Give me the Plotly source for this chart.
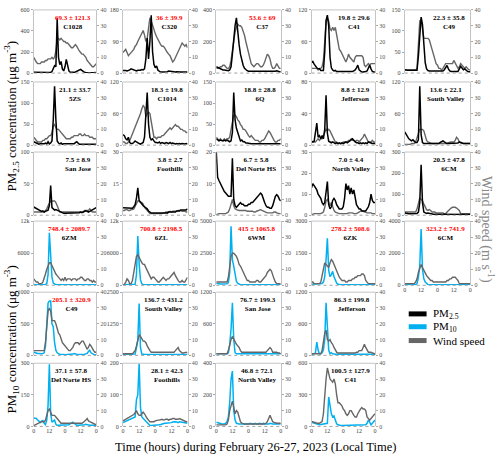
import plotly.graph_objects as go

W, H = 500, 461
hours = list(range(49))
x_tick_vals = [0, 12, 24, 36, 48]
x_tick_text = ['0', '12', '0', '12', '0']
ws_ticks = [0, 10, 20, 30, 40]

# ---------------- PM2.5 panels (hourly, 0..48 h) ----------------
pm25_C1028 = [8,8,6,5,5,6,5,5,6,5, 8,6,5,6,15,40,70,60,520,150, 80,110,40,20,60,130,70,20,8,6, 6,8,10,15,25,30,35,25,12,6, 5,4,4,4,5,4,4,5,4]
ws25_C1028 = [10,8,7,6,6,6,7,7,7,8, 8,9,9,9,10,9,10,14,22,22, 21,22,21,20,20,19,19,18,17,16, 16,17,18,17,15,14,13,12,12,11, 10,8,7,6,5,4,4,5,6]
pm25_C320 = [7,8,7,6,7,9,12,10,8,7, 6,8,7,8,10,9,12,40,100,40, 90,165,60,25,15,20,8,4,3,3, 3,3,5,4,6,5,4,3,3,3, 4,3,3,3,3,4,3,3,3]
ws25_C320 = [13,14,15,13,11,12,13,14,15,17, 18,20,22,24,26,27,24,20,22,30, 35,33,30,27,25,23,21,19,18,17, 17,16,14,13,12,11,9,7,8,10, 12,14,16,18,19,18,17,18,16]
pm25_C37 = [40,35,30,28,25,20,20,18,15,15, 20,40,120,220,300,350,250,180,120,80, 50,30,20,15,12,12,10,10,10,12, 10,10,12,10,10,10,12,10,10,8, 10,8,8,10,12,15,10,8,8]
ws25_C37 = [3,3,3,4,4,5,5,4,3,3, 4,8,15,22,26,29,31,30,30,29, 27,24,20,16,12,9,6,5,4,5, 6,6,5,4,4,5,7,10,12,11, 9,5,3,3,4,6,4,3,3]
pm25_C41 = [20,22,17,13,10,8,8,5,5,5, 40,100,110,90,30,10,6,4,5,3, 3,3,3,2,3,2,3,3,2,3, 3,3,4,6,10,15,6,3,2,2, 2,3,4,10,15,8,3,2,2]
ws25_C41 = [3,3,3,3,3,2,3,3,4,8, 20,32,35,33,28,27,29,27,29,24, 18,15,14,12,10,9,7,9,12,10, 9,8,7,10,11,11,11,11,11,10, 5,4,5,6,5,6,6,6,6]
pm25_C49 = [8,7,7,7,7,7,7,7,7,7, 40,100,133,115,60,25,10,6,5,5, 5,5,5,5,5,5,5,5,5,8, 15,18,10,5,4,4,4,4,4,4, 10,16,12,8,10,6,4,3,3]
ws25_C49 = [2,2,2,2,2,2,2,2,2,3, 20,33,34,28,22,22,22,22,21,18, 14,11,8,6,5,3,3,2,3,5, 6,6,6,6,6,6,8,6,4,3, 4,6,5,4,3,4,3,2,2]
pm25_5ZS = [8,6,4,2,2,3,3,2,3,5, 3,8,3,5,10,60,140,60,10,5, 3,5,2,3,3,3,3,3,3,3, 3,3,6,8,5,2,2,2,2,2, 2,2,2,2,2,2,2,2,2]
ws25_5ZS = [5,4,3,2,2,2,2,3,3,4, 4,5,6,6,8,12,13,11,10,10, 9,8,7,6,5,4,4,4,4,5, 5,6,6,6,6,7,7,6,6,7, 6,6,6,5,5,5,4,4,4]
pm25_C1014 = [20,18,12,10,15,5,3,3,5,8, 6,4,3,2,3,5,15,50,100,40, 15,10,12,8,5,5,4,6,3,5, 4,3,5,4,3,5,3,4,3,2, 3,2,3,2,3,2,2,3,2]
ws25_C1014 = [2,2,1,1,2,3,5,7,9,11, 13,15,17,20,23,25,24,18,20,21, 20,14,8,5,5,4,5,5,5,6, 6,7,8,9,10,11,10,11,12,13, 12,12,11,10,10,9,9,8,8]
pm25_6Q = [15,12,10,12,10,10,12,10,12,10, 8,10,30,125,60,40,30,15,10,12, 8,8,5,5,4,3,3,3,3,4, 3,3,3,3,3,3,3,3,3,3, 3,3,3,3,3,3,3,3,3]
ws25_6Q = [5,4,3,4,3,3,4,3,4,4, 5,10,15,19,19,18,16,15,13,12, 10,10,9,7,6,5,6,5,4,3, 3,3,2,2,3,3,4,6,8,9, 8,6,4,3,2,2,3,3,4]
pm25_Jefferson = [5,4,5,15,28,10,12,8,12,8, 20,63,15,5,4,3,4,3,2,3, 2,3,2,3,2,3,4,3,4,5, 6,8,6,4,3,3,2,3,2,3, 2,3,2,4,3,3,2,2,2]
ws25_Jefferson = [2,2,2,2,3,4,3,4,4,6, 8,10,9,10,9,7,5,3,2,2, 1,1,1,1,2,2,2,2,3,3, 4,3,3,2,3,3,2,3,4,5, 7,5,3,2,2,2,3,2,2]
pm25_SouthValley = [25,20,15,12,10,8,10,7,5,5, 10,112,20,5,3,3,3,3,3,3, 3,3,3,3,3,3,5,7,8,6, 4,3,3,3,3,3,3,3,3,4, 6,5,3,3,3,3,3,3,3]
ws25_SouthValley = [0.5,0.5,0.5,0.5,0.5,1,1,1,2,5, 8,10,10,10,9,6,3,2,1.5,1, 1,1,1,1,1,1,1,1,1,1, 1,1,1.5,2,2,2,2,3,5,4, 2,1.5,1,1,1,1,1,1,1]
pm25_SanJose = [13,12,11,10,9,8,6,7,5,6, 7,8,15,47,12,10,8,9,8,7, 5,4,3,3,3,3,4,3,3,4, 3,4,3,4,3,4,5,4,5,6, 7,6,5,6,7,8,10,11,12]
ws25_SanJose = [2,2,2,2,2,2,2,2,2,3, 4,6,8,9,9,9,9,8,6,3, 2,2,2,2,2,2,2,2,2,2, 2,2,2,2,2,2,2,2,2,3, 3,3,3,4,3,2,2,2,2]
pm25_Foothills = [3.5,3.5,3.3,3.5,3.2,3.4,3.5,3.3,4,5, 8,13,7,6,5,4.5,4,3.5,3,2, 1.5,1,1,1,1,1,1,0.8,1,1, 1,1,1.2,1,1.5,1.5,1.5,1.5,1.5,1.5, 2,2,2,2.5,2.5,2.5,2.5,2.5,3]
ws25_Foothills = [3,3,3.5,3.5,3,3,3.5,3.5,4,6, 8,9,9,8,8,7,5,4,3,2, 1,1,1,1,1,1,1,1,1,1, 1.5,1.5,2,2,2,2.5,2,2.5,2.5,2.5, 2.5,3,3,3,2.5,2.5,2.5,2,2]
pm25_DelNorte = [20,12,11,10,9,8,7.5,7,6.5,6, 6,6,18,5,3,2.5,3,3.5,4,3.5, 3.5,3,3,3,3.5,3.5,4,4,4.5,5, 5.5,6,6.5,7,6.5,5,4,3,2.5,2.5, 2.2,2.2,3,4.5,6,6.5,6,5,4.5]
ws25_DelNorte = [0.5,0.5,1,1,1,1,1,1,1.5,2, 4,7,10,6,4,3.5,3,3,3,3, 3,3,3,2.5,2.5,2.5,2.5,2.5,2,2, 2.5,3,3.5,3.5,3,2.5,2,1.5,1.5,1.5, 1.5,1.5,1.5,2,2,1.5,1,1,1]
pm25_NorthValley = [13,15,14,13,12,10,9,8,6,5, 6,10,16,5,3,4,7,8,7,5, 4,3,3,3,4,8,15,12,14,10, 13,10,12,8,5,4,3,3,2,2, 2,2,3,4,6,10,7,6,6]
ws25_NorthValley = [0.5,0.5,1,1,1,1,1,1,1.5,2, 5,9,10,8,6,8,5,3,2,1.5, 1,1,1,1,1,1,1,1,1.5,1.5, 1.5,1.5,1,1,1,1.5,2,2.5,3,2.5, 2,1.5,1.5,1.5,1.5,1.5,1,1,1]
pm25_6CM = [10,8,7,7,7,7,7,7,7,8, 15,60,240,60,15,10,8,10,8,5, 4,4,4,4,4,4,4,4,4,4, 5,4,4,3,3,3,3,3,3,3, 3,3,3,3,3,3,3,3,3]
ws25_6CM = [2,2,2,2,2,2,2,2,2,4, 8,11,10,9,7,5,3.5,3,3.5,3, 2,2,2,1.5,1.5,1.5,1.5,1.5,1.5,1, 1,2,3,4,4.5,5,5,5,4.5,4, 3,1,1,1,1,1,1,1,1]

# ---------------- PM10 panels ----------------
pm10_6ZM = [100,90,80,80,80,80,80,90,100,150, 300,2000,9800,5000,1500,400,200,100,80,80, 80,80,80,80,80,80,80,80,80,80, 80,80,80,80,80,80,80,80,80,80, 80,80,80,80,80,80,80,80,80]
ws10_6ZM = [4,3,2,2,1,1,1,2,4,7, 10,12,14,14,12,10,9,7,6,5, 4,3,4,3,5,3,4,4,4,3, 4,4,4,3,4,4,5,5,4,3, 3,4,4,3,3,2,3,2,2]
pm10_6ZL = [100,100,100,100,100,100,100,100,100,200, 2000,9200,4000,1000,300,100,80,80,80,80, 80,80,80,80,80,80,80,80,80,80, 80,80,80,80,80,80,80,80,80,80, 80,80,80,80,80,80,80,80,80]
ws10_6ZL = [0,0.5,2,4,3,1,1,3,8,14, 18,19,17,15,14,13,13,11,9,7, 5,4,5,5,4,3,2,2,3,4, 5,4,3,4,4,5,6,7,8,6, 4,3,2,2,3,2,2,4,5]
pm10_6WM = [150,120,100,100,100,100,100,100,120,200, 1000,4600,2000,1500,700,300,150,80,50,50, 50,50,50,50,50,50,50,50,50,50, 50,50,50,50,50,50,50,50,50,50, 50,50,50,50,50,50,50,50,50]
ws10_6WM = [2,2,2,2,2,2,2,2,2,5, 12,18,20,20,19,18,16,13,12,10, 8,6,4,3,3,2,2,2,2,2, 3,3,2,2,3,4,5,6,8,9, 10,9,6,4,2,1,1,1,1]
pm10_6ZK = [50,50,50,50,50,50,50,50,80,150, 400,1200,2200,700,400,500,650,400,250,100, 50,30,30,30,30,30,30,30,30,30, 30,30,30,30,30,30,30,30,30,30, 30,30,30,30,30,30,30,30,30]
ws10_6ZK = [2,2,1,1,1,1,1,2,6,10, 14,13,12,11,14,16,15,13,10,8, 6,5,4,3,3,3,2,2,3,3, 3,4,4,5,5,6,6,6,7,7, 6,3,2,1,1,1,1,1,1]
pm10_6CM = [30,30,30,30,30,30,30,30,30,100, 500,1200,3500,1000,400,200,100,50,40,40, 40,40,40,40,40,40,40,40,40,40, 40,40,40,40,40,40,40,40,40,40, 40,40,40,40,40,40,40,40,40]
ws10_6CM = [1,1,1,1,1,1,1,1,2,4, 8,11,13,11,9,7,6,5,4,3, 3,2,2,2,2,2,2,2,2,2, 2,3,3,4,4,5,5,5,4,3, 1,1,1,1,1,1,1,1,1]
pm10_C49 = [50,40,30,30,30,25,25,30,40,150, 600,830,860,860,500,450,200,80,40,20, 15,15,20,15,10,10,15,20,15,10, 20,30,20,15,10,15,20,15,10,15, 20,30,60,80,40,20,15,10,10]
ws10_C49 = [3,3,3,3,3,3,3,3,3,8, 20,28,30,28,22,22,22,20,17,14, 13,10,8,7,6,5,4,3,3,4, 5,7,8,8,8,7,8,9,9,7, 5,4,5,7,6,4,3,2,2]
pm10_SouthValley = [30,30,30,30,30,30,30,30,30,50, 300,600,2050,300,50,30,30,30,30,30, 30,30,30,30,30,30,30,30,30,30, 30,30,30,30,30,30,40,50,40,30, 30,30,30,30,30,30,30,30,30]
ws10_SouthValley = [1,1,1,1,1,1,1,1,2,3, 6,9,13,12,10,9,9,8,6,4, 3,2,2,2,2,2,2,2,2,2, 2,2,2,2,2,2,2,2,2,3, 4,5,3,2,1.5,1.5,2,2,1.5]
pm10_SanJose = [30,30,30,30,30,30,30,30,30,50, 200,500,1000,300,50,30,30,30,30,30, 30,30,30,30,30,30,30,30,30,30, 30,30,30,30,30,30,30,30,30,30, 30,30,30,30,30,30,30,30,30]
ws10_SanJose = [1,1,1,1,1,1,1,1,1,3, 7,10,12,10,8,7,6,5,3,2, 2,2,2,2,2,2,2,2,2,2, 2,2,2,2,2,2,2,2,3,4, 5,4,2,2,2,2,1.5,1.5,1]
pm10_Jefferson = [20,20,30,50,250,100,30,30,50,100, 300,1000,400,100,30,50,30,20,20,20, 20,20,20,20,20,20,20,20,20,20, 20,20,20,20,20,20,20,20,20,20, 20,20,20,20,20,20,20,20,20]
ws10_Jefferson = [1,1,1,1,1,1,1,1,3,8, 14,16,10,9,10,8,7,5,3,2, 1.5,1.5,1.5,1.5,1.5,1.5,1.5,1.5,1.5,1.5, 1.5,1.5,1.5,1.5,2,2,3,3,3,5, 7,5,3,2,2,2,1.5,1,1]
pm10_DelNorte = [40,40,38,30,22,19,25,28,15,9, 30,100,295,60,20,25,30,10,5,5, 5,5,5,5,5,5,5,8,12,18, 20,15,8,5,5,5,5,5,5,8, 10,8,6,6,6,5,5,5,5]
ws10_DelNorte = [0.5,1,1.5,2,2,2.5,3,3,3,4, 7,10,11,9,7,7,7,6,5,4, 3,2,2,2,2,2,2,2,2,2, 2,2,2,2,2,2,2,2,2.5,3, 4,5,3.5,3,2.5,2,2,1.5,1]
pm10_Foothills = [12,14,16,18,20,22,24,26,28,30, 85,100,200,60,30,25,20,15,10,6, 3,3,3,3,3,3,4,5,6,8, 8,10,10,10,10,12,12,14,15,15, 14,12,15,14,12,12,10,10,10]
ws10_Foothills = [3.5,4,4,4.5,5,5.5,6,7,7.5,8.5, 10,8,7,7,8,9,8,6,5,4, 3,3,3,3,3.5,4,4,4,4.5,4.5, 4,4.5,4.5,4.5,4,4.5,4.5,5,5,4.5, 4.5,4.5,5,4.5,4,3.5,3,3,3]
pm10_NorthValley = [25,25,20,20,15,15,15,20,30,60, 150,300,350,100,40,20,15,15,15,15, 15,15,15,15,15,20,15,15,15,20, 15,15,20,15,15,20,15,15,15,15, 20,15,15,15,15,15,15,15,15]
ws10_NorthValley = [1,1,1,1,1,1,1,1,1.5,4, 10,14,16,12,8,10,9,6,3,2, 1.5,1.5,1.5,1.5,1.5,1.5,1.5,1.5,1.5,1.5, 1.5,1.5,1.5,1.5,1.5,1.5,1.5,2,3,5, 7,5,3,2.5,2,2,2,2,2]
pm10_C41 = [40,35,30,25,20,18,15,18,20,20, 20,25,30,280,200,120,90,100,60,25, 15,10,8,8,8,8,8,8,8,8, 8,8,8,8,8,8,8,8,8,8, 10,15,30,60,40,15,30,50,60]
ws10_C41 = [3,3,2.5,2.5,2,2,2,2.5,3,8, 20,30,37,33,30,29,28,30,27,20, 15,15,14,13,11,10,8,7,8,10, 10,8,7,6,6,8,10,11,12,11, 11,10,6,5,4,5,6,7,8]

# (kind, site, mean ± sd, highlighted, y max, y ticks, pm, wind)
panels = [
    ('pm25', 'C1028', '69.3 ± 121.3', True, 600, [0, 200, 400, 600], pm25_C1028, ws25_C1028),
    ('pm25', 'C320', '36 ± 39.9', True, 180, [0, 90, 180], pm25_C320, ws25_C320),
    ('pm25', 'C37', '53.6 ± 69', True, 400, [0, 200, 400], pm25_C37, ws25_C37),
    ('pm25', 'C41', '19.8 ± 29.6', False, 120, [0, 60, 120], pm25_C41, ws25_C41),
    ('pm25', 'C49', '22.3 ± 35.8', False, 150, [0, 50, 100, 150], pm25_C49, ws25_C49),
    ('pm25', '5ZS', '21.1 ± 33.7', False, 150, [0, 50, 100, 150], pm25_5ZS, ws25_5ZS),
    ('pm25', 'C1014', '18.3 ± 19.8', False, 120, [0, 60, 120], pm25_C1014, ws25_C1014),
    ('pm25', '6Q', '18.8 ± 28.8', False, 150, [0, 50, 100, 150], pm25_6Q, ws25_6Q),
    ('pm25', 'Jefferson', '8.8 ± 12.9', False, 80, [0, 40, 80], pm25_Jefferson, ws25_Jefferson),
    ('pm25', 'South Valley', '13.6 ± 22.1', False, 120, [0, 60, 120], pm25_SouthValley, ws25_SouthValley),
    ('pm25', 'San Jose', '7.5 ± 8.9', False, 100, [0, 50, 100], pm25_SanJose, ws25_SanJose),
    ('pm25', 'Foothills', '3.8 ± 2.7', False, 30, [0, 15, 30], pm25_Foothills, ws25_Foothills),
    ('pm25', 'Del Norte HS', '6.7 ± 5.8', False, 20, [0, 10, 20], pm25_DelNorte, ws25_DelNorte),
    ('pm25', 'North Valley', '7.0 ± 4.4', False, 30, [0, 10, 20, 30], pm25_NorthValley, ws25_NorthValley),
    ('pm25', '6CM', '20.5 ± 47.8', False, 300, [0, 100, 200, 300], pm25_6CM, ws25_6CM),
    ('pm10', '6ZM', '748.4 ± 2089.7', True, 12000, [0, 6000, 12000], pm10_6ZM, ws10_6ZM),
    ('pm10', '6ZL', '700.8 ± 2198.5', True, 12000, [0, 6000, 12000], pm10_6ZL, ws10_6ZL),
    ('pm10', '6WM', '415 ± 1065.8', True, 5000, [0, 2500, 5000], pm10_6WM, ws10_6WM),
    ('pm10', '6ZK', '278.2 ± 508.6', True, 3000, [0, 1500, 3000], pm10_6ZK, ws10_6ZK),
    ('pm10', '6CM', '323.2 ± 741.9', True, 4000, [0, 2000, 4000], pm10_6CM, ws10_6CM),
    ('pm10', 'C49', '205.1 ± 320.9', True, 1000, [0, 500, 1000], pm10_C49, ws10_C49),
    ('pm10', 'South Valley', '136.7 ± 431.2', False, 2500, [0, 1250, 2500], pm10_SouthValley, ws10_SouthValley),
    ('pm10', 'San Jose', '76.7 ± 199.3', False, 1200, [0, 600, 1200], pm10_SanJose, ws10_SanJose),
    ('pm10', 'Jefferson', '86.3 ± 199.8', False, 1200, [0, 600, 1200], pm10_Jefferson, ws10_Jefferson),
    ('pm10', 'Del Norte HS', '37.1 ± 57.8', False, 300, [0, 150, 300], pm10_DelNorte, ws10_DelNorte),
    ('pm10', 'Foothills', '28.1 ± 42.3', False, 200, [0, 100, 200], pm10_Foothills, ws10_Foothills),
    ('pm10', 'North Valley', '46.8 ± 72.1', False, 400, [0, 200, 400], pm10_NorthValley, ws10_NorthValley),
    ('pm10', 'C41', '100.5 ± 127.9', False, 600, [0, 300, 600], pm10_C41, ws10_C41),
]

positions = ([(r, c) for r in range(4) for c in range(5)]
             + [(4, c) for c in range(4)] + [(5, c) for c in range(4)])
xlabel_cells = {(5, 0), (5, 1), (5, 2), (5, 3), (3, 4)}

col_l = [32, 122, 216, 312, 406]
col_r = [95, 187, 281, 376, 472]
row_t = [7, 80, 151, 221, 293, 365]
row_b = [71, 144, 215, 286, 357, 429]

FONT = 'Liberation Serif'
C_PM25 = '#000000'
C_PM10 = '#00b0f0'
C_WS = '#666666'
C_FRAME = '#c4c4c4'
C_RED = '#ff0000'


def px(x):
    return x / W


def py(y):
    return 1 - y / H


def axname(k, letter):
    return f'{letter}axis' if k == 1 else f'{letter}axis{k}'


def axref(k, letter):
    return letter if k == 1 else f'{letter}{k}'


fig = go.Figure()
layout = {}
shapes = []
annotations = []

for i, (kind, site, stat, red, ymax, yticks, pm, ws) in enumerate(panels):
    r, c = positions[i]
    n = i + 1
    kb, ko = 2 * n - 1, 2 * n
    xd = [px(col_l[c]), px(col_r[c])]
    yd = [py(row_b[r]), py(row_t[r])]
    show_x = (r, c) in xlabel_cells

    xaxis = dict(domain=xd, range=[0, 48], anchor=axref(kb, 'y'),
                 showticklabels=show_x, ticks='', showgrid=False,
                 zeroline=False, showline=False, fixedrange=True)
    if show_x:
        xaxis.update(tickvals=x_tick_vals, ticktext=x_tick_text,
                     tickfont=dict(family=FONT, size=6, color='#444'))
    layout[axname(n, 'x')] = xaxis

    pm_axis = dict(range=[0, ymax], tickvals=yticks, side='left',
                   ticks='outside', ticklen=2, tickcolor='#aaa',
                   showline=True, linecolor=C_FRAME, linewidth=1,
                   showgrid=False, zeroline=False,
                   tickfont=dict(family=FONT, size=6, color='#444'))
    ws_axis = dict(range=[0, 40], tickvals=ws_ticks, side='right',
                   ticks='outside', ticklen=2, tickcolor='#aaa',
                   showline=True, linecolor=C_FRAME, linewidth=1,
                   showgrid=False, zeroline=False,
                   tickfont=dict(family=FONT, size=6, color='#555'))
    if kind == 'pm25':
        base, over = ws_axis, pm_axis
        ws_k, pm_k = kb, ko
        pm_color = C_PM25
    else:
        base, over = pm_axis, ws_axis
        pm_k, ws_k = kb, ko
        pm_color = C_PM10
    base.update(domain=yd, anchor=axref(n, 'x'))
    over.update(overlaying=axref(kb, 'y'), anchor=axref(n, 'x'))
    layout[axname(kb, 'y')] = base
    layout[axname(ko, 'y')] = over

    ws_trace = go.Scatter(x=hours[:len(ws)], y=ws, mode='lines',
                          line=dict(color=C_WS, width=1.4),
                          xaxis=axref(n, 'x'), yaxis=axref(ws_k, 'y'),
                          hoverinfo='skip')
    pm_trace = go.Scatter(x=hours[:len(pm)], y=pm, mode='lines',
                          line=dict(color=pm_color, width=1.5),
                          xaxis=axref(n, 'x'), yaxis=axref(pm_k, 'y'),
                          hoverinfo='skip')
    if kind == 'pm25':
        fig.add_trace(ws_trace)
        fig.add_trace(pm_trace)
    else:
        fig.add_trace(pm_trace)
        fig.add_trace(ws_trace)

    # frame: solid top, dotted bottom
    shapes.append(dict(type='line', xref='paper', yref='paper',
                       x0=xd[0], x1=xd[1], y0=yd[1], y1=yd[1],
                       line=dict(color=C_FRAME, width=1)))
    shapes.append(dict(type='line', xref='paper', yref='paper',
                       x0=xd[0], x1=xd[1], y0=yd[0], y1=yd[0],
                       line=dict(color='#a0a0a0', width=1, dash='dot')))

    stat_color = C_RED if red else '#000000'
    annotations.append(dict(
        xref='paper', yref='paper', x=px(col_r[c] - 3), y=py(row_t[r] + 2),
        xanchor='right', yanchor='top', align='center', showarrow=False,
        text=f"<b><span style='color:{stat_color}'>{stat}</span><br>{site}</b>",
        font=dict(family=FONT, size=7, color='#000')))

# axis titles
annotations.append(dict(xref='paper', yref='paper', x=px(9), y=py(114),
                        text='PM<sub>2.5</sub> concentration (μg m<sup>-3</sup>)',
                        textangle=-90, showarrow=False, xanchor='center', yanchor='middle',
                        font=dict(family=FONT, size=13, color='#000')))
annotations.append(dict(xref='paper', yref='paper', x=px(9), y=py(341),
                        text='PM<sub>10</sub> concentration (μg m<sup>-3</sup>)',
                        textangle=-90, showarrow=False, xanchor='center', yanchor='middle',
                        font=dict(family=FONT, size=13, color='#000')))
annotations.append(dict(xref='paper', yref='paper', x=px(490), y=py(229),
                        text='Wind speed (m s<sup>-1</sup>)',
                        textangle=90, showarrow=False, xanchor='center', yanchor='middle',
                        font=dict(family=FONT, size=14, color='#888')))
annotations.append(dict(xref='paper', yref='paper', x=px(256), y=py(450),
                        text='Time (hours) during February 26-27, 2023 (Local Time)',
                        showarrow=False, xanchor='center', yanchor='middle',
                        font=dict(family=FONT, size=12.5, color='#000')))

# legend (manual)
legend_items = [('PM<sub>2.5</sub>', C_PM25, 315), ('PM<sub>10</sub>', C_PM10, 328),
                ('Wind speed', C_WS, 342)]
for label, color, ly in legend_items:
    shapes.append(dict(type='line', xref='paper', yref='paper',
                       x0=px(410), x1=px(428), y0=py(ly), y1=py(ly),
                       line=dict(color=color, width=5)))
    annotations.append(dict(xref='paper', yref='paper', x=px(432), y=py(ly),
                            text=label, showarrow=False, xanchor='left', yanchor='middle',
                            font=dict(family=FONT, size=11, color='#000')))

fig.update_layout(width=W, height=H, margin=dict(l=0, r=0, t=0, b=0),
                  paper_bgcolor='white', plot_bgcolor='white', showlegend=False,
                  font=dict(family=FONT), shapes=shapes, annotations=annotations,
                  **layout)

fig.write_html("out.html", post_script="document.body.style.margin='0';",
               config={'displayModeBar': False})
